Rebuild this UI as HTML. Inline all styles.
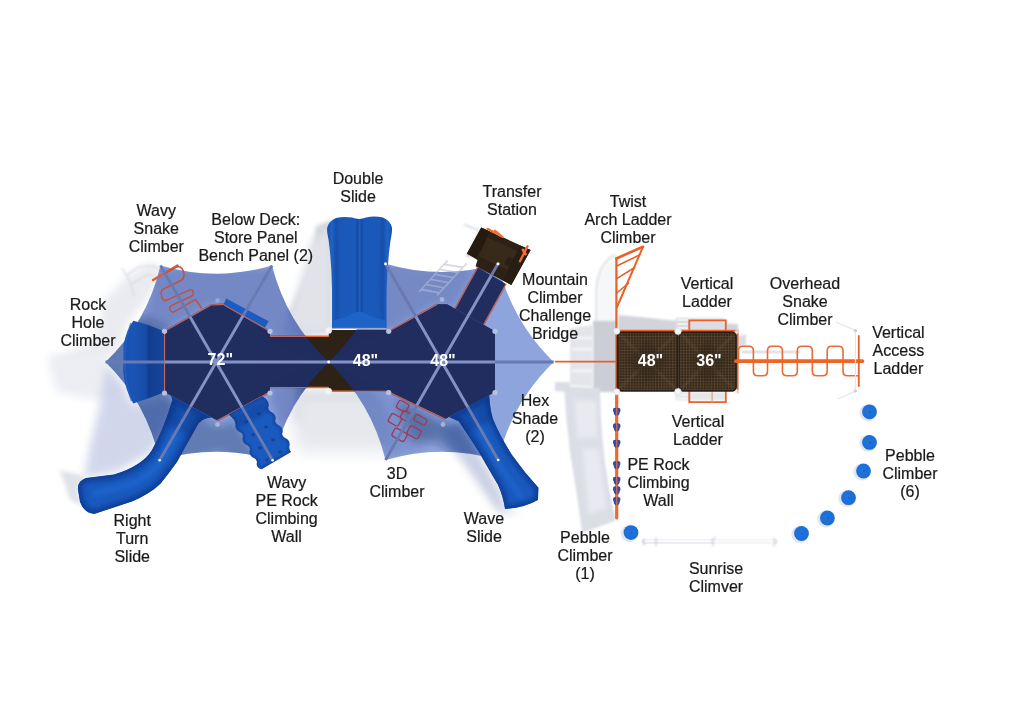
<!DOCTYPE html>
<html><head><meta charset="utf-8"><title>Playground top view</title>
<style>
html,body{margin:0;padding:0;background:#fff;}
body{width:1024px;height:723px;overflow:hidden;font-family:"Liberation Sans",sans-serif;}
svg{display:block}
.lbl text{font-family:"Liberation Sans",sans-serif;font-size:16px;fill:#1a1a1a;stroke:#1a1a1a;stroke-width:.22px;text-anchor:middle;}
.sz text{font-family:"Liberation Sans",sans-serif;font-size:16px;font-weight:bold;fill:#fff;text-anchor:middle;}
</style></head><body>
<svg width="1024" height="723" viewBox="0 0 1024 723">
<defs>
  <filter id="b2" x="-20%" y="-20%" width="140%" height="140%"><feGaussianBlur stdDeviation="2"/></filter>
  <filter id="b4" x="-30%" y="-30%" width="160%" height="160%"><feGaussianBlur stdDeviation="4"/></filter>
  <filter id="b8" x="-40%" y="-40%" width="180%" height="180%"><feGaussianBlur stdDeviation="8"/></filter>
  <filter id="b1" x="-20%" y="-20%" width="140%" height="140%"><feGaussianBlur stdDeviation=".8"/></filter>
  <clipPath id="cs1"><path d="M105.5,362.0 Q147.4,322.0 160.5,265.5 Q216.5,281.9 272.0,265.5 Q286.3,322.0 328.7,362.0 Q286.5,402.8 272.6,460.3 Q216.3,443.5 159.6,460.2 Q147.0,402.8 105.5,362.0Z"/></clipPath>
  <clipPath id="cs2"><path d="M328.7,362.0 Q371.6,321.2 385.5,263.7 Q441.9,280.4 498.0,263.7 Q511.7,321.2 553.7,362.0 Q511.8,402.7 498.2,460.0 Q442.0,443.3 385.5,460.0 Q371.6,402.7 328.7,362.0Z"/></clipPath>
  <clipPath id="crts"><path d="M171,395.8 L172.4,400 Q164,428 152,450 Q142,466 114,474.5 L86,478 Q77,481 78,490 L80,502 Q84,513 94.2,514 L132,501.5 Q150,494 160.7,483.5 Q170,472 177,462 L197,426 Q201,418 211.5,417.4Z"/></clipPath>
  <clipPath id="cww"><path d="M228.6,414.4 L262,396.2 Q269,399.5 268.6,406 Q267,410 271,412 Q276,414 275.6,419 Q274,423 278,425 Q283,427 282.6,432 Q281,436 285,438 Q290,440 289.6,445 Q288.4,449 291,452 L261.6,469.2 Q257,468 256.6,464 Q258,460 254,458 Q249,456 249.6,451 Q251,447 247,445 Q242,443 242.6,438 Q244,434 240,432 Q235,430 235.6,425 Q236,420 228.6,414.4Z"/></clipPath>
  <clipPath id="cws"><path d="M448.8,417 L489.2,395 Q490,410 493,419 Q500,436 511.7,454.5 Q524,472 538.5,487.8 L538,500 Q524,508 505,509 Q503,496 498,485 Q488,468 479.3,452.7 Q468,435 458.7,421.2Z"/></clipPath>
  <linearGradient id="rhcg" x1="0" x2="1" y1="0" y2="0"><stop offset="0" stop-color="#1850b0"/><stop offset=".25" stop-color="#1a55b6"/><stop offset=".55" stop-color="#174ca8"/><stop offset=".62" stop-color="#123e90"/><stop offset="1" stop-color="#154599"/></linearGradient>
  <clipPath id="cdeck"><polygon points="164.5,331.3 211.0,305.0 223.0,304.3 270.0,331.3 270.0,392.0 217.5,420.5 164.5,392.0"/><polygon points="388.7,331.3 437.4,304.2 447.0,304.2 495.0,331.3 495.0,392.0 445.0,419.0 388.7,392.0"/><polygon points="269.5,336.3 329.5,336.3 329.5,387.5 269.5,387.5"/><polygon points="328.7,330.0 389.5,330.0 389.5,391.3 328.7,391.3"/><polygon points="455.0,308.5 477.5,267.5 506.0,284.0 483.7,324.7"/></clipPath>
  <clipPath id="cshade"><path d="M105.5,362.0 Q147.4,322.0 160.5,265.5 Q216.5,281.9 272.0,265.5 Q286.3,322.0 328.7,362.0 Q286.5,402.8 272.6,460.3 Q216.3,443.5 159.6,460.2 Q147.0,402.8 105.5,362.0Z M328.7,362.0 Q371.6,321.2 385.5,263.7 Q441.9,280.4 498.0,263.7 Q511.7,321.2 553.7,362.0 Q511.8,402.7 498.2,460.0 Q442.0,443.3 385.5,460.0 Q371.6,402.7 328.7,362.0Z"/></clipPath>
  <linearGradient id="slideV" x1="0" x2="1" y1="0" y2="0">
    <stop offset="0" stop-color="#154dab"/><stop offset=".07" stop-color="#1f63c6"/><stop offset=".14" stop-color="#174fac"/><stop offset=".2" stop-color="#1a59ba"/>
    <stop offset=".43" stop-color="#1a59ba"/><stop offset=".47" stop-color="#154ba6"/><stop offset=".5" stop-color="#1c5fc2"/><stop offset=".53" stop-color="#154ba6"/>
    <stop offset=".57" stop-color="#1a59ba"/><stop offset=".8" stop-color="#1a59ba"/><stop offset=".86" stop-color="#174fac"/><stop offset=".93" stop-color="#1f63c6"/><stop offset="1" stop-color="#154dab"/>
  </linearGradient>
  <radialGradient id="peb" cx=".45" cy=".45" r=".6"><stop offset="0" stop-color="#1f74de"/><stop offset="1" stop-color="#1d6bd2"/></radialGradient>
  <pattern id="mesh" width="2.8" height="2.8" patternUnits="userSpaceOnUse">
    <rect width="2.8" height="2.8" fill="#34271a"/><path d="M0,.4H2.8M.4,0V2.8" stroke="#57462f" stroke-width=".8"/>
  </pattern>
  <radialGradient id="sh1g" cx=".5" cy=".5" r=".55"><stop offset="0" stop-color="#5b74c4" stop-opacity=".62"/><stop offset=".75" stop-color="#5e78c8" stop-opacity=".6"/><stop offset="1" stop-color="#7088d0" stop-opacity=".52"/></radialGradient>
</defs>
<rect width="1024" height="723" fill="#fff"/>

<!-- ============ ground shadows ============ -->
<g id="shadows">
  <!-- faint ghost of snake climber + rock climber, far left -->
  <path d="M104,300 L128,276 L150,262 L162,268 L150,296 L128,322 L122,344 L104,362 L60,372 L50,360 L96,340Z" fill="#e9ebf0" filter="url(#b4)"/>
  <path d="M48,356 L104,356 L118,398 L96,400 L56,392Z" fill="#eceef3" filter="url(#b4)"/>
  <path d="M126,276 l12,-9 l16,-1 l8,5 M132,284 l14,-9 l12,1 M122,268 l8,14 l4,14" fill="none" stroke="#d9dbe2" stroke-width="1.6" filter="url(#b1)" opacity=".8"/>
  <!-- shade + slide shadow, lower-left -->
  <path d="M106,364 L124,384 L132,404 L168,398 L174,406 L152,452 L116,472 L84,478 L90,446 L100,404Z" fill="#c6cee6" filter="url(#b4)" opacity=".8"/>
  <path d="M60,470 L84,476 L78,490 L82,506 L70,500Z" fill="#dfe2ea" filter="url(#b2)"/>
  <!-- between shades -->
  <path d="M316,226 L332,220 L332,333 L298,335 L289,313 L311,264Z" fill="#cfd2da" filter="url(#b2)"/>
  <path d="M284,334 L312,240 L332,226 L332,334Z" fill="#e1e3e9" filter="url(#b4)"/>
  <path d="M300,392 L372,392 L384,420 L368,430 L310,428 L292,418Z" fill="#cfd2da" filter="url(#b4)"/>
  <path d="M296,394 L380,394 L398,440 L388,452 L300,452 Q288,430 296,394Z" fill="#e6e8ed" filter="url(#b8)"/>
  <!-- wave slide shadow -->
  <path d="M436,426 L462,424 L500,490 L506,508 L520,514 L498,512 L470,472Z" fill="#b4bcd8" filter="url(#b4)" opacity=".7"/>
  <!-- transfer-station ladder shadow -->
  <path d="M419.0,292.0 L447.5,260.5 M437.0,295.5 L466.5,263.5 M421.3,289.5 L439.4,292.9 M425.8,284.4 L444.1,287.8 M430.4,279.4 L448.8,282.7 M435.0,274.4 L453.5,277.6 M439.5,269.3 L458.2,272.5 M444.1,264.3 L463.0,267.3" stroke="#d6d8e0" stroke-width="1.7" fill="none"/>
  <!-- right structure -->
  <path d="M596.5,324 L596.5,292 Q598,262 616,255" fill="none" stroke="#e7e8ec" stroke-width="3" filter="url(#b1)"/>
  <path d="M599,330 L599,292 Q600,266 616,259 L616,330Z" fill="#f6f7f9"/>
  <path d="M593,321 L616.5,321 L616.5,392 L593,392Z" fill="#cbced7" filter="url(#b1)"/>
  <path d="M570,328 L593,325 L593,387 L570,385Z" fill="#e3e5ea" filter="url(#b1)"/>
  <path d="M572,338 H592 M572,349 H592 M572,371 H592" stroke="#f3f4f6" stroke-width="3" filter="url(#b1)"/>
  <path d="M555,382 L570,382 L570,392 L555,391Z" fill="#dcdee5" filter="url(#b1)"/>
  <path d="M618,315 L640,317 L678,321 L738,324 L738,332 L618,332Z" fill="#d2d4db" filter="url(#b1)"/>
  <path d="M564,386 L600,388 Q601,440 607,476 Q611,500 615,516 L615,521 L582,533 Q578,500 570,452 Q566,420 564,386Z" fill="#dcdee6" filter="url(#b1)"/>
  <path d="M574,400 L596,401 L597,438 L578,438Z M582,448 L599,449 L606,508 L589,514Z" fill="#e8eaef" filter="url(#b2)"/>
  <path d="M675.6,318 h49 v14 h-49z" fill="#dcdde2" filter="url(#b1)"/>
  <path d="M677.5,320 h10 M677.5,324 h10 M677.5,328 h10" stroke="#f6f6f8" stroke-width="1.6"/>
  <path d="M675.6,392 h50 v8.5 h-50z" fill="#e6e7eb" filter="url(#b1)"/>
  <path d="M677.5,395 h10 M677.5,398.5 h10" stroke="#f8f8fa" stroke-width="1.4"/>
  <path d="M738,336 l8,-2 v12 l-8,0z" fill="#dcdde3" filter="url(#b1)"/>
</g>

<!-- ============ decks (brown) ============ -->
<g fill="#2e2216"><polygon points="164.5,331.3 211.0,305.0 223.0,304.3 270.0,331.3 270.0,392.0 217.5,420.5 164.5,392.0"/><polygon points="388.7,331.3 437.4,304.2 447.0,304.2 495.0,331.3 495.0,392.0 445.0,419.0 388.7,392.0"/><polygon points="269.5,336.3 329.5,336.3 329.5,387.5 269.5,387.5"/><polygon points="328.7,330.0 389.5,330.0 389.5,391.3 328.7,391.3"/><polygon points="455.0,308.5 477.5,267.5 506.0,284.0 483.7,324.7"/></g>
<g fill="none" stroke="#ea6a2c" stroke-width="1.5">
  <polyline points="164.5,392.0 164.5,331.3 211.0,305.0 223.0,304.3 270.0,331.3"/>
  <polyline points="270.0,392.0 217.5,420.5"/>
  <polyline points="270,336.3 328.7,336.3"/><polyline points="270,387.5 328.7,387.5"/>
  <polyline points="328.7,391.3 388.7,391.3"/>
  <polyline points="388.7,331.3 437.4,304.2"/>
  <polyline points="388.7,392.0 445.0,419.0"/>
  <polyline points="455,308.5 477.5,267.5"/><polyline points="483.7,324.7 506,284"/>
</g>

<!-- ============ shades ============ -->
<g id="shades">
  <path d="M105.5,362.0 Q147.4,322.0 160.5,265.5 Q216.5,281.9 272.0,265.5 Q286.3,322.0 328.7,362.0 Q286.5,402.8 272.6,460.3 Q216.3,443.5 159.6,460.2 Q147.0,402.8 105.5,362.0Z" fill="#0237b2" fill-opacity=".46"/>
  <path d="M328.7,362.0 Q371.6,321.2 385.5,263.7 Q441.9,280.4 498.0,263.7 Q511.7,321.2 553.7,362.0 Q511.8,402.7 498.2,460.0 Q442.0,443.3 385.5,460.0 Q371.6,402.7 328.7,362.0Z" fill="#0237b2" fill-opacity=".45"/>
  <g clip-path="url(#cshade)" fill="#0c1c55" filter="url(#b4)">
    <g opacity=".3">
      <path d="M170,398 L217.5,426 L236,420 L262,466 L244,470 L222,452 L184,460 L160,444Z"/>
      <path d="M396,398 L445,424 L460,420 L492,470 L470,470 L440,444 L410,440Z"/>
      <path d="M296,380 L330,366 L330,392 L300,400Z"/>
      <path d="M100,362 L132,312 L168,328 L168,396 L132,412Z"/>
      <path d="M128,402 L166,392 L174,406 L154,452 L118,444Z"/>
    </g>
    <g opacity=".17">
      <path d="M158,268 L272,268 L272,332 L223,304 L211,305 L164,332 L140,330Z"/>
      <path d="M272,266 L300,300 L330,362 L270,337 L270,331Z"/>
      <path d="M386,264 L478,266 L455,308 L437,304 L389,331 L360,340 L332,362Z"/>
      <path d="M270,388 L330,362 L300,420 L284,440 L270,400Z"/>
    </g>
    <g opacity=".1">
      <path d="M389,392 L445,420 L420,452 L386,458 L352,400 L332,364Z"/>
    </g>
  </g>
  <!-- decks under shade are in deep shadow -->
  <g clip-path="url(#cshade)" fill="#222f60" opacity=".8"><polygon points="164.5,331.3 211.0,305.0 223.0,304.3 270.0,331.3 270.0,392.0 217.5,420.5 164.5,392.0"/><polygon points="388.7,331.3 437.4,304.2 447.0,304.2 495.0,331.3 495.0,392.0 445.0,419.0 388.7,392.0"/><polygon points="269.5,336.3 329.5,336.3 329.5,387.5 269.5,387.5"/><polygon points="328.7,330.0 389.5,330.0 389.5,391.3 328.7,391.3"/><polygon points="455.0,308.5 477.5,267.5 506.0,284.0 483.7,324.7"/></g>
  <g clip-path="url(#cshade)" fill="none" stroke="#c4685e" stroke-width="1.2">
  <polyline points="164.5,392.0 164.5,331.3 211.0,305.0 223.0,304.3 270.0,331.3"/>
  <polyline points="270.0,392.0 217.5,420.5"/>
  <polyline points="270,336.3 328.7,336.3"/><polyline points="270,387.5 328.7,387.5"/>
  <polyline points="328.7,391.3 388.7,391.3"/>
  <polyline points="388.7,331.3 437.4,304.2"/>
  <polyline points="388.7,392.0 445.0,419.0"/>
  <polyline points="455,308.5 477.5,267.5"/><polyline points="483.7,324.7 506,284"/>
</g>
</g>

<!-- ============ orange climbers under shades ============ -->
<g fill="none" stroke="#c4513f" stroke-width="1.5" stroke-linejoin="round" stroke-linecap="round">
  <!-- wavy snake climber -->
  <path d="M153.1,280 L177.5,265.6" stroke-width="2.6" stroke="#d8603a"/>
  <path d="M165.5,273 L177.3,266.6 Q183,266.5 184,274 Q184.5,278.5 181,280.5 L165,288.2 Q160.5,290.5 161.2,294 Q162,301.5 166,300.5 L189.8,289.9 Q193,289 193.5,292.8 Q193.5,295 191,296.5 L173.2,304.8 Q169,306.5 169.9,309 Q171,313 174,311.8 L195.6,299.4 L201.4,308"/>
  <!-- 3D climber -->
  <rect x="397.1" y="401.9" width="11.0" height="8.5" rx="2" transform="rotate(29 402.6 406.2)" stroke="#9c3b58" stroke-width="1.3"/><rect x="389.1" y="415.1" width="11.5" height="9.5" rx="2" transform="rotate(29 394.9 419.9)" stroke="#9c3b58" stroke-width="1.3"/><rect x="401.4" y="411.9" width="9.5" height="8.5" rx="2" transform="rotate(29 406.1 416.1)" stroke="#9c3b58" stroke-width="1.3"/><rect x="414.1" y="416.6" width="12.5" height="6.5" rx="2" transform="rotate(29 420.4 419.9)" stroke="#9c3b58" stroke-width="1.3"/><rect x="392.5" y="430.3" width="14.0" height="9.0" rx="2" transform="rotate(29 399.5 434.8)" stroke="#9c3b58" stroke-width="1.3"/><rect x="407.9" y="427.6" width="12.5" height="9.5" rx="2" transform="rotate(29 414.2 432.3)" stroke="#9c3b58" stroke-width="1.3"/>
</g>

<!-- ============ blue plastic parts (drawn over the shade – they keep their saturation in the render) ============ -->
<g id="blue">
  <!-- rock hole climber -->
  <path id="rhc" d="M164,331.5 Q148,324 133.3,320.7 Q126,331 123.6,345 L123.2,372 Q125,390 133.3,403.4 Q148,399 164,392.6Z" fill="url(#rhcg)"/>
  <path d="M131,323 Q124.5,340 124.8,360 Q125,382 131.5,401" fill="none" stroke="#2267cc" stroke-width="1.6" opacity=".7"/>
  <!-- bench panel -->
  <polygon points="226.3,298.5 268.7,321.3 265,327.6 223.7,304" fill="#1b5cc1"/>
  <!-- right turn slide -->
  <g clip-path="url(#crts)">
    <path d="M171,395.8 L172.4,400 Q164,428 152,450 Q142,466 114,474.5 L86,478 Q77,481 78,490 L80,502 Q84,513 94.2,514 L132,501.5 Q150,494 160.7,483.5 Q170,472 177,462 L197,426 Q201,418 211.5,417.4Z" fill="#1a59bd"/>
    <path d="M171,395.8 L172.4,400 Q164,428 152,450 Q142,466 114,474.5 L86,478 Q77,481 78,490 L80,502 Q84,513 94.2,514 L132,501.5 Q150,494 160.7,483.5 Q170,472 177,462 L197,426 Q201,418 211.5,417.4Z" fill="none" stroke="#114199" stroke-width="9" filter="url(#b2)"/>
    <path d="M186,412 Q172,444 160,462 Q146,482 118,488 L92,494" fill="none" stroke="#1f66cf" stroke-width="7" filter="url(#b2)" opacity=".8"/>
    <path d="M166,396 L212,420 L200,440 L158,420Z" fill="#0d2f7a" opacity=".35" filter="url(#b2)"/>
  </g>
  <!-- wavy wall -->
  <g clip-path="url(#cww)">
    <path d="M228.6,414.4 L262,396.2 Q269,399.5 268.6,406 Q267,410 271,412 Q276,414 275.6,419 Q274,423 278,425 Q283,427 282.6,432 Q281,436 285,438 Q290,440 289.6,445 Q288.4,449 291,452 L261.6,469.2 Q257,468 256.6,464 Q258,460 254,458 Q249,456 249.6,451 Q251,447 247,445 Q242,443 242.6,438 Q244,434 240,432 Q235,430 235.6,425 Q236,420 228.6,414.4Z" fill="#1a5abf"/>
    <path d="M228.6,414.4 L262,396.2 Q269,399.5 268.6,406 Q267,410 271,412 Q276,414 275.6,419 Q274,423 278,425 Q283,427 282.6,432 Q281,436 285,438 Q290,440 289.6,445 Q288.4,449 291,452 L261.6,469.2 Q257,468 256.6,464 Q258,460 254,458 Q249,456 249.6,451 Q251,447 247,445 Q242,443 242.6,438 Q244,434 240,432 Q235,430 235.6,425 Q236,420 228.6,414.4Z" fill="none" stroke="#13479f" stroke-width="4" filter="url(#b1)"/>
    <g fill="#123f92" opacity=".8"><ellipse cx="246" cy="422" rx="2" ry="1.4"/><ellipse cx="259" cy="414" rx="2" ry="1.4"/><ellipse cx="253" cy="435" rx="2" ry="1.4"/><ellipse cx="266" cy="427" rx="2" ry="1.4"/><ellipse cx="260" cy="448" rx="2" ry="1.4"/><ellipse cx="273" cy="440" rx="2" ry="1.4"/><ellipse cx="267" cy="460" rx="2" ry="1.4"/><ellipse cx="280" cy="452" rx="2" ry="1.4"/></g>
    <path d="M230,418 L264,399 L270,410 L236,430Z" fill="#0d2f7a" opacity=".3" filter="url(#b2)"/>
  </g>
  <!-- wave slide -->
  <g clip-path="url(#cws)">
    <path d="M448.8,417 L489.2,395 Q490,410 493,419 Q500,436 511.7,454.5 Q524,472 538.5,487.8 L538,500 Q524,508 505,509 Q503,496 498,485 Q488,468 479.3,452.7 Q468,435 458.7,421.2Z" fill="#1a59bd"/>
    <path d="M448.8,417 L489.2,395 Q490,410 493,419 Q500,436 511.7,454.5 Q524,472 538.5,487.8 L538,500 Q524,508 505,509 Q503,496 498,485 Q488,468 479.3,452.7 Q468,435 458.7,421.2Z" fill="none" stroke="#114199" stroke-width="8" filter="url(#b2)"/>
    <path d="M472,412 Q484,440 500,466 L522,498" fill="none" stroke="#1f66cf" stroke-width="6" filter="url(#b2)" opacity=".8"/>
    <path d="M446,420 L492,394 L498,416 L462,436Z" fill="#0d2f7a" opacity=".3" filter="url(#b2)"/>
  </g>
</g>

<!-- double slide (sits above the shade) -->
<g id="dslide">
  <path d="M332,328.6 L332,290 Q331.6,262 328.6,240 Q326.4,230 327.4,227 Q329,221 336,218 Q344,216 352,217.6 Q359,220.4 366,217.6 Q374,215.6 383,217.6 Q390,220.6 391.8,227 Q392.6,230 390.6,240 Q387.4,262 386.6,290 L386.6,328.6Z" fill="url(#slideV)"/>
  <path d="M333,328 L333.4,320 Q345,318.5 352,313.6 Q359,310 366,313.6 Q373,318.5 385.4,320 L385.6,328Z" fill="#1e64c8"/>
  <path d="M336.5,236 Q338.5,262 338.6,312 M381.8,236 Q380,262 379.8,312" stroke="#164fa9" stroke-width="1.6" fill="none" opacity=".55" filter="url(#b1)"/>
  <path d="M332,328.4 H386.6" stroke="#aab2c8" stroke-width="1"/>
</g>
<!-- ============ transfer station ============ -->
<g>
  <path d="M464,224.5 L478,230" fill="none" stroke="#d4d6dc" stroke-width="1.6" filter="url(#b1)"/>
  <path d="M466,256 L480,228 L483,229 L470,258Z" fill="#cfd1d8" filter="url(#b1)"/>
  <polygon points="481.3,227.5 530.6,250 511.3,285 475.6,266.3 477.5,260 466.9,253.7" fill="#2d2115"/>
  <polygon points="481.3,227.5 490,231.5 476.5,257.8 466.9,253.7" fill="#241a10"/>
  <polygon points="487.5,237.5 517.5,251.3 507.5,270 478.8,256.3" fill="#382a1b"/>
  <polygon points="509,266 513,259 508,256.5 504,264" fill="#2a1f13"/>
  <polygon points="520,245.5 530.6,250 511.3,285 503,280.5" fill="#281d12"/>
  <path d="M487.5,228.8 L502.5,236.9" stroke="#ee6a2e" stroke-width="2.2" fill="none" stroke-linecap="round"/>
  <path d="M495,231 L501,236 L497.5,233.5" stroke="#f0703a" stroke-width="2.6" fill="none" stroke-linecap="round"/>
  <path d="M527.5,246.3 L520,261.3" stroke="#ee6a2e" stroke-width="2.4" fill="none" stroke-linecap="round"/>
  <path d="M523,250 L525.5,254" stroke="#f0703a" stroke-width="2.8" fill="none" stroke-linecap="round"/>
</g>

<path d="M419.0,292.0 L447.5,260.5 M437.0,295.5 L466.5,263.5 M421.3,289.5 L439.4,292.9 M425.8,284.4 L444.1,287.8 M430.4,279.4 L448.8,282.7 M435.0,274.4 L453.5,277.6 M439.5,269.3 L458.2,272.5 M444.1,264.3 L463.0,267.3" stroke="#fff" stroke-opacity=".34" stroke-width="1.8" fill="none" clip-path="url(#cs2)"/>
<!-- deck posts -->
<g fill="#b9c1dc">
  <circle cx="164.5" cy="331.3" r="2.6"/><circle cx="270" cy="331.3" r="2.6"/><circle cx="270" cy="393" r="2.6"/><circle cx="164.5" cy="393" r="2.6"/>
  <circle cx="217.5" cy="300.5" r="2.2" opacity=".55"/><circle cx="217.5" cy="424.5" r="2.4" opacity=".75"/>
  <circle cx="388.7" cy="331.3" r="2.6"/><circle cx="495" cy="331.3" r="2.6"/><circle cx="495" cy="392.5" r="2.6"/><circle cx="388.7" cy="392.5" r="2.6"/>
  <circle cx="442" cy="299.5" r="2.4" opacity=".75"/><circle cx="443" cy="424.5" r="2.4" opacity=".75"/>
  <circle cx="328.7" cy="330.5" r="3.2" fill="#f1f2f6"/><circle cx="328.7" cy="391.3" r="3.2" fill="#f1f2f6"/>
</g>

<!-- shade poles -->
<g stroke="#6a7ab0" stroke-width="2.8" stroke-linecap="butt" fill="none">
  <line x1="105.5" y1="362" x2="553.7" y2="362"/>
  <line x1="160.5" y1="265.5" x2="272.6" y2="460.3"/>
  <line x1="272" y1="265.5" x2="159.6" y2="460.2"/>
  <line x1="385.5" y1="263.7" x2="498.2" y2="460"/>
  <line x1="498" y1="263.7" x2="385.5" y2="460"/>
</g>
<g stroke="#8492c6" stroke-width="2.6" fill="none" clip-path="url(#cdeck)">
  <line x1="105.5" y1="362" x2="553.7" y2="362"/>
  <line x1="160.5" y1="265.5" x2="272.6" y2="460.3"/>
  <line x1="272" y1="265.5" x2="159.6" y2="460.2"/>
  <line x1="385.5" y1="263.7" x2="498.2" y2="460"/>
  <line x1="498" y1="263.7" x2="385.5" y2="460"/>
</g>
<g fill="#fff">
  <circle cx="328.7" cy="362" r="1.4"/><circle cx="385.5" cy="263.7" r="1.5"/><circle cx="498" cy="263.7" r="1.5"/>
  <circle cx="498.2" cy="460" r="1.3"/><circle cx="159.6" cy="460.2" r="1.3"/><circle cx="272.6" cy="460.3" r="1.3"/>
</g>

<!-- ============ right structure ============ -->
<g id="right">
  <!-- sunrise climber -->
  <path d="M622,546 H712" stroke="#eef0f4" stroke-width="5" stroke-linecap="round" filter="url(#b2)"/>
  <path d="M644,541.6 H776" stroke="#eceef2" stroke-width="4.6" stroke-linecap="round"/>
  <path d="M716,541.6 H776" stroke="#f5f6f8" stroke-width="4.6" stroke-linecap="round"/>
  <path d="M644,541 H776" stroke="#f8f9fb" stroke-width="2"/>
  <path d="M656,539.4 H712" stroke="#cdd0d8" stroke-width="1" filter="url(#b1)"/>
  <path d="M644.5,538.5 q-2.5,3.5 .5,7 M656,537.5 v8.5 M715.5,537 q-4,2 -3,6 l1,3 M773.5,538 q3.6,3.8 0,8" stroke="#c4c8d0" stroke-width="1.3" fill="none" filter="url(#b1)"/>
  <!-- orange frame -->
  <g stroke="#e8612b" fill="none" stroke-linecap="round">
    <line x1="555.5" y1="361.6" x2="617" y2="361.6" stroke-width="1.7"/>
    <line x1="616.4" y1="258.5" x2="616.4" y2="392" stroke-width="2.2"/>
    <line x1="616.7" y1="392" x2="616.7" y2="518" stroke-width="3.2" stroke="#ea6a30"/>
    <path d="M616.3,258.5 L643,246.8" stroke-width="2.6"/>
    <path d="M643,246.8 L617,307" stroke-width="2"/>
    <path d="M616.7,266 L639.5,255 M616.7,278.6 L634.7,267.5 M616.7,293 L628.4,283.4" stroke-width="1.6"/>
    <rect x="689.3" y="320.4" width="36.5" height="12" stroke-width="1.8"/>
    <path d="M689.3,391 V402.2 H725.8 V391" stroke-width="1.8"/><path d="M712.1,391 V402" stroke-width="1.2" stroke="#e89a78"/>
    <path d="M616,330.8 H737.6 V392" stroke-width="1.9"/>
  </g>
  <g fill="url(#mesh)">
    <rect x="616.8" y="331.6" width="61.4" height="60" rx="4.5"/>
    <rect x="678.4" y="331.6" width="58.4" height="60" rx="4.5"/>
  </g>
  <g stroke="#6a563b" stroke-width="1.6" opacity=".6" filter="url(#b1)">
    <path d="M620,335 L675,388 M675,335 L620,388 M682,335 L733,388 M733,335 L682,388"/>
  </g>
  <path d="M647.5,340 L668,361.5 L647.5,383 L627,361.5Z M707.5,341 L727,361.5 L707.5,382 L688,361.5Z" fill="#2c2015" opacity=".35" filter="url(#b2)"/>
  <g fill="none" stroke="#2a1f14" stroke-width="1.6">
    <rect x="617.6" y="332.4" width="59.8" height="58.4" rx="4"/>
    <rect x="679.2" y="332.4" width="56.8" height="58.4" rx="4"/>
  </g>
  <g fill="#f4f5f8" stroke="#d4d6dd" stroke-width=".6"><circle cx="616.8" cy="331.2" r="3.1"/><circle cx="678" cy="331.2" r="3.3"/><circle cx="616.8" cy="391.8" r="3.1"/><circle cx="678" cy="391.8" r="3.3"/><circle cx="737" cy="331.6" r="2" opacity=".7"/><circle cx="737" cy="391.6" r="2" opacity=".7"/></g>
  <!-- overhead snake climber -->
  <path d="M742,352 H800" stroke="#d7d9df" stroke-width="3" opacity=".7"/>
  <path d="M738.5,361.0 V350.7 Q738.5,346.2 743.0,346.2 H748.9 Q753.4,346.2 753.4,350.7 V371.3 Q753.4,375.8 757.9,375.8 H763.0 Q767.5,375.8 767.5,371.3 V350.7 Q767.5,346.2 772.0,346.2 H777.9 Q782.4,346.2 782.4,350.7 V371.3 Q782.4,375.8 786.9,375.8 H792.8 Q797.3,375.8 797.3,371.3 V350.7 Q797.3,346.2 801.8,346.2 H807.8 Q812.3,346.2 812.3,350.7 V371.3 Q812.3,375.8 816.8,375.8 H822.7 Q827.2,375.8 827.2,371.3 V350.7 Q827.2,346.2 831.7,346.2 H838.5 Q843.0,346.2 843.0,350.7 V371.3 Q843.0,375.8 847.5,375.8 H858.8" fill="none" stroke="#ea6a35" stroke-width="1.6"/>
  <path d="M736,361.2 H862.4" stroke="#f06424" stroke-width="3.7" stroke-linecap="round"/>
  <path d="M858.8,336 V386" stroke="#e8612b" stroke-width="1.8" stroke-linecap="round"/>
  <path d="M836,322 L855.5,330.5 V391 L838,399" stroke="#e4e6ea" stroke-width="1.2" fill="none"/>
  <circle cx="855.5" cy="330.5" r="1.6" fill="#c9ccd4"/><circle cx="855.5" cy="391" r="1.6" fill="#c9ccd4"/>
  <path d="M613.2,408.6 q1.6,-1.6 3.5,-.4 q1.9,-1.2 3.5,.4 q.8,2.6 -.6,4 q.4,2.4 -2.9,3.6 q-3.3,-1.2 -2.9,-3.6 q-1.4,-1.4 -.6,-4z" fill="#2e4fb0"/><path d="M613.2,424.2 q1.6,-1.6 3.5,-.4 q1.9,-1.2 3.5,.4 q.8,2.6 -.6,4 q.4,2.4 -2.9,3.6 q-3.3,-1.2 -2.9,-3.6 q-1.4,-1.4 -.6,-4z" fill="#2e4fb0"/><path d="M613.2,440.6 q1.6,-1.6 3.5,-.4 q1.9,-1.2 3.5,.4 q.8,2.6 -.6,4 q.4,2.4 -2.9,3.6 q-3.3,-1.2 -2.9,-3.6 q-1.4,-1.4 -.6,-4z" fill="#2e4fb0"/><path d="M613.2,462.0 q1.6,-1.6 3.5,-.4 q1.9,-1.2 3.5,.4 q.8,2.6 -.6,4 q.4,2.4 -2.9,3.6 q-3.3,-1.2 -2.9,-3.6 q-1.4,-1.4 -.6,-4z" fill="#2e4fb0"/><path d="M613.2,477.6 q1.6,-1.6 3.5,-.4 q1.9,-1.2 3.5,.4 q.8,2.6 -.6,4 q.4,2.4 -2.9,3.6 q-3.3,-1.2 -2.9,-3.6 q-1.4,-1.4 -.6,-4z" fill="#2e4fb0"/><path d="M613.2,487.2 q1.6,-1.6 3.5,-.4 q1.9,-1.2 3.5,.4 q.8,2.6 -.6,4 q.4,2.4 -2.9,3.6 q-3.3,-1.2 -2.9,-3.6 q-1.4,-1.4 -.6,-4z" fill="#2e4fb0"/><path d="M613.2,497.9 q1.6,-1.6 3.5,-.4 q1.9,-1.2 3.5,.4 q.8,2.6 -.6,4 q.4,2.4 -2.9,3.6 q-3.3,-1.2 -2.9,-3.6 q-1.4,-1.4 -.6,-4z" fill="#2e4fb0"/>
  <line x1="616.7" y1="400" x2="616.7" y2="512" stroke="#ea6a30" stroke-width="1.5" opacity=".85"/>
</g>

<!-- pebbles -->
<circle cx="869.5" cy="411.8" r="8.6" fill="#c9d2e6" opacity=".55" transform="translate(-1.6,.8)"/><circle cx="869.5" cy="411.8" r="7.4" fill="url(#peb)"/><circle cx="870.0" cy="411.8" r=".8" fill="#1553a8"/>
<circle cx="869.5" cy="442.4" r="8.6" fill="#c9d2e6" opacity=".55" transform="translate(-1.6,.8)"/><circle cx="869.5" cy="442.4" r="7.4" fill="url(#peb)"/><circle cx="870.0" cy="442.4" r=".8" fill="#1553a8"/>
<circle cx="863.5" cy="471.0" r="8.6" fill="#c9d2e6" opacity=".55" transform="translate(-1.6,.8)"/><circle cx="863.5" cy="471.0" r="7.4" fill="url(#peb)"/><circle cx="864.0" cy="471.0" r=".8" fill="#1553a8"/>
<circle cx="848.5" cy="497.7" r="8.6" fill="#c9d2e6" opacity=".55" transform="translate(-1.6,.8)"/><circle cx="848.5" cy="497.7" r="7.4" fill="url(#peb)"/><circle cx="849.0" cy="497.7" r=".8" fill="#1553a8"/>
<circle cx="827.4" cy="518.0" r="8.6" fill="#c9d2e6" opacity=".55" transform="translate(-1.6,.8)"/><circle cx="827.4" cy="518.0" r="7.4" fill="url(#peb)"/><circle cx="827.9" cy="518.0" r=".8" fill="#1553a8"/>
<circle cx="801.5" cy="533.5" r="8.6" fill="#c9d2e6" opacity=".55" transform="translate(-1.6,.8)"/><circle cx="801.5" cy="533.5" r="7.4" fill="url(#peb)"/><circle cx="802.0" cy="533.5" r=".8" fill="#1553a8"/>
<circle cx="631.0" cy="532.6" r="8.6" fill="#c9d2e6" opacity=".55" transform="translate(-1.6,.8)"/><circle cx="631.0" cy="532.6" r="7.4" fill="url(#peb)"/><circle cx="631.5" cy="532.6" r=".8" fill="#1553a8"/>


<g class="sz" opacity=".995"><text x="220.3" y="365.2">72&quot;</text>
<text x="365.5" y="365.5">48&quot;</text>
<text x="443.0" y="365.5">48&quot;</text>
<text x="650.5" y="365.5">48&quot;</text>
<text x="709.0" y="365.5">36&quot;</text>
</g>
<g class="lbl" opacity=".995"><text x="156.3" y="215.5">Wavy</text>
<text x="156.3" y="233.5">Snake</text>
<text x="156.3" y="251.5">Climber</text>
<text x="255.8" y="224.5">Below Deck:</text>
<text x="255.8" y="242.5">Store Panel</text>
<text x="255.8" y="260.5">Bench Panel (2)</text>
<text x="88.0" y="310.0">Rock</text>
<text x="88.0" y="328.0">Hole</text>
<text x="88.0" y="346.0">Climber</text>
<text x="358.0" y="184.0">Double</text>
<text x="358.0" y="202.0">Slide</text>
<text x="512.0" y="197.0">Transfer</text>
<text x="512.0" y="215.0">Station</text>
<text x="628.0" y="206.5">Twist</text>
<text x="628.0" y="224.5">Arch Ladder</text>
<text x="628.0" y="242.5">Climber</text>
<text x="555.0" y="285.0">Mountain</text>
<text x="555.0" y="303.0">Climber</text>
<text x="555.0" y="321.0">Challenge</text>
<text x="555.0" y="339.0">Bridge</text>
<text x="707.0" y="289.4">Vertical</text>
<text x="707.0" y="307.4">Ladder</text>
<text x="805.0" y="289.4">Overhead</text>
<text x="805.0" y="307.4">Snake</text>
<text x="805.0" y="325.4">Climber</text>
<text x="898.4" y="338.0">Vertical</text>
<text x="898.4" y="356.0">Access</text>
<text x="898.4" y="374.0">Ladder</text>
<text x="535.0" y="406.0">Hex</text>
<text x="535.0" y="424.0">Shade</text>
<text x="535.0" y="442.0">(2)</text>
<text x="698.0" y="427.0">Vertical</text>
<text x="698.0" y="445.0">Ladder</text>
<text x="658.5" y="470.2">PE Rock</text>
<text x="658.5" y="488.2">Climbing</text>
<text x="658.5" y="506.2">Wall</text>
<text x="910.0" y="461.0">Pebble</text>
<text x="910.0" y="479.0">Climber</text>
<text x="910.0" y="497.0">(6)</text>
<text x="397.0" y="478.8">3D</text>
<text x="397.0" y="496.8">Climber</text>
<text x="286.6" y="487.6">Wavy</text>
<text x="286.6" y="505.6">PE Rock</text>
<text x="286.6" y="523.6">Climbing</text>
<text x="286.6" y="541.6">Wall</text>
<text x="132.2" y="526.0">Right</text>
<text x="132.2" y="544.0">Turn</text>
<text x="132.2" y="562.0">Slide</text>
<text x="484.0" y="524.0">Wave</text>
<text x="484.0" y="542.0">Slide</text>
<text x="585.0" y="543.2">Pebble</text>
<text x="585.0" y="561.2">Climber</text>
<text x="585.0" y="579.2">(1)</text>
<text x="716.0" y="574.2">Sunrise</text>
<text x="716.0" y="592.2">Climver</text>
</g>
</svg>
</body></html>
